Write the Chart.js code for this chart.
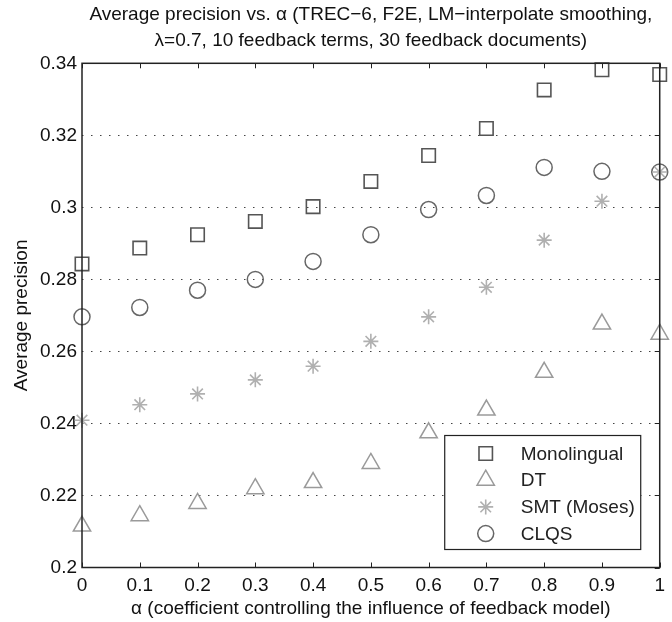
<!DOCTYPE html>
<html>
<head>
<meta charset="utf-8">
<script src="https://cdn.jsdelivr.net/npm/chart.js@4/dist/chart.umd.min.js"></script>
<style>
  html, body { margin: 0; padding: 0; background: #fff; }
  #wrap { width: 672px; height: 622px; }
</style>
</head>
<body>
<div id="wrap"><canvas id="apChart"></canvas></div>
<script>
// alpha values on the x axis
const alphas = [0, 0.1, 0.2, 0.3, 0.4, 0.5, 0.6, 0.7, 0.8, 0.9, 1];

// average precision per method
const monolingual = [0.2843, 0.2887, 0.2924, 0.2961, 0.3002, 0.3072, 0.3144, 0.3219, 0.3326, 0.3382, 0.3369];
const dt          = [0.2115, 0.2144, 0.2178, 0.2219, 0.2236, 0.2289, 0.2374, 0.2437, 0.2542, 0.2676, 0.2648];
const smt         = [0.2409, 0.2452, 0.2482, 0.2521, 0.2559, 0.2628, 0.2696, 0.2778, 0.2909, 0.3017, 0.3098];
const clqs        = [0.2696, 0.2722, 0.2770, 0.2800, 0.2850, 0.2924, 0.2994, 0.3033, 0.3111, 0.3100, 0.3098];

const seriesNames = ['Monolingual', 'DT', 'SMT (Moses)', 'CLQS'];

const FONT = "'Liberation Sans', Arial, Helvetica, sans-serif";
const FS = 19;
const toPoints = arr => arr.map((v, i) => ({ x: alphas[i], y: v }));

// matlab style box, inner tick marks and the legend inside the axes
const boxPlugin = {
    id: 'matlabBox',
    afterDatasetsDraw(chart) {
        const { ctx, chartArea: a, scales } = chart;
        ctx.save();
        ctx.strokeStyle = '#222';
        ctx.lineWidth = 1;
        const tl = 5;
        ctx.beginPath();
        scales.x.ticks.forEach(t => {
            const px = Math.round(scales.x.getPixelForValue(t.value)) + 0.5;
            ctx.moveTo(px, a.top); ctx.lineTo(px, a.top + tl);
            ctx.moveTo(px, a.bottom); ctx.lineTo(px, a.bottom - tl);
        });
        scales.y.ticks.forEach(t => {
            const py = Math.round(scales.y.getPixelForValue(t.value)) + 0.5;
            ctx.moveTo(a.right, py); ctx.lineTo(a.right - tl, py);
        });
        ctx.stroke();
        ctx.lineWidth = 1.5;
        ctx.strokeRect(a.left, a.top, a.right - a.left, a.bottom - a.top);

        // legend
        const w = 196, h = 114;
        const lx = a.right - 19 - w, ly = a.bottom - 18 - h;
        ctx.fillStyle = '#fff';
        ctx.fillRect(lx, ly, w, h);
        ctx.lineWidth = 1.2;
        ctx.strokeStyle = '#222';
        ctx.strokeRect(lx, ly, w, h);
        ctx.font = FS + 'px ' + FONT;
        ctx.textBaseline = 'middle';
        ctx.textAlign = 'left';
        chart.data.datasets.forEach((ds, i) => {
            const cy = ly + 18 + i * 26.7;
            ctx.strokeStyle = ds.borderColor;
            ctx.fillStyle = 'rgba(0,0,0,0)';
            ctx.lineWidth = ds.borderWidth;
            Chart.helpers.drawPoint(ctx, {
                pointStyle: ds.pointStyle,
                radius: ds.pointRadius,
                rotation: 0,
                borderWidth: ds.borderWidth
            }, lx + 41, cy);
            ctx.fillStyle = '#222';
            ctx.fillText(ds.label, lx + 76, cy + 1);
        });
        ctx.restore();
    }
};

new Chart(document.getElementById('apChart'), {
    type: 'scatter',
    data: {
        datasets: [
            { label: seriesNames[0], data: toPoints(monolingual), pointStyle: 'rect', pointRadius: 9.5, borderColor: '#555', borderWidth: 1.6 },
            { label: seriesNames[1], data: toPoints(dt), pointStyle: 'triangle', pointRadius: 10, borderColor: '#9a9a9a', borderWidth: 1.5 },
            { label: seriesNames[2], data: toPoints(smt), pointStyle: 'star', pointRadius: 7.5, borderColor: '#b0b0b0', borderWidth: 1.6 },
            { label: seriesNames[3], data: toPoints(clqs), pointStyle: 'circle', pointRadius: 8, borderColor: '#666', borderWidth: 1.5 }
        ].map(d => Object.assign(d, { backgroundColor: 'rgba(0,0,0,0)', pointHoverRadius: d.pointRadius, clip: false }))
    },
    options: {
        responsive: true,
        maintainAspectRatio: false,
        animation: false,
        layout: { autoPadding: false, padding: { left: 0, right: 6, top: 0, bottom: 0 } },
        scales: {
            x: {
                type: 'linear',
                min: 0,
                max: 1,
                afterFit: s => { s.height = 54.5; },
                ticks: { stepSize: 0.1, padding: 7, color: '#111', font: { family: FONT, size: FS },
                         callback: v => String(+v.toFixed(1)) },
                grid: { display: false, drawTicks: false },
                border: { display: false },
                title: { display: true, text: 'α (coefficient controlling the influence of feedback model)',
                         color: '#111', font: { family: FONT, size: FS }, padding: { top: 0, bottom: 2 } }
            },
            y: {
                type: 'linear',
                min: 0.2,
                max: 0.34,
                afterFit: s => { s.width = 82; },
                ticks: { stepSize: 0.02, padding: 5, color: '#111', font: { family: FONT, size: FS },
                         callback: v => String(+v.toFixed(2)) },
                grid: { color: '#444', lineWidth: 1, drawTicks: false },
                border: { display: false, dash: [1.5, 7.5] },
                title: { display: true, text: 'Average precision',
                         color: '#111', font: { family: FONT, size: FS }, padding: { top: 10, bottom: 0 } }
            }
        },
        plugins: {
            legend: { display: false },
            tooltip: { enabled: false },
            title: {
                display: true,
                fullSize: false,
                text: ['Average precision vs. α (TREC−6, F2E, LM−interpolate smoothing,',
                       'λ=0.7, 10 feedback terms, 30 feedback documents)'],
                color: '#111',
                font: { family: FONT, size: FS, weight: 'normal', lineHeight: 1.35 },
                padding: { top: 2, bottom: 10 }
            }
        }
    },
    plugins: [boxPlugin]
});
</script>
</body>
</html>
